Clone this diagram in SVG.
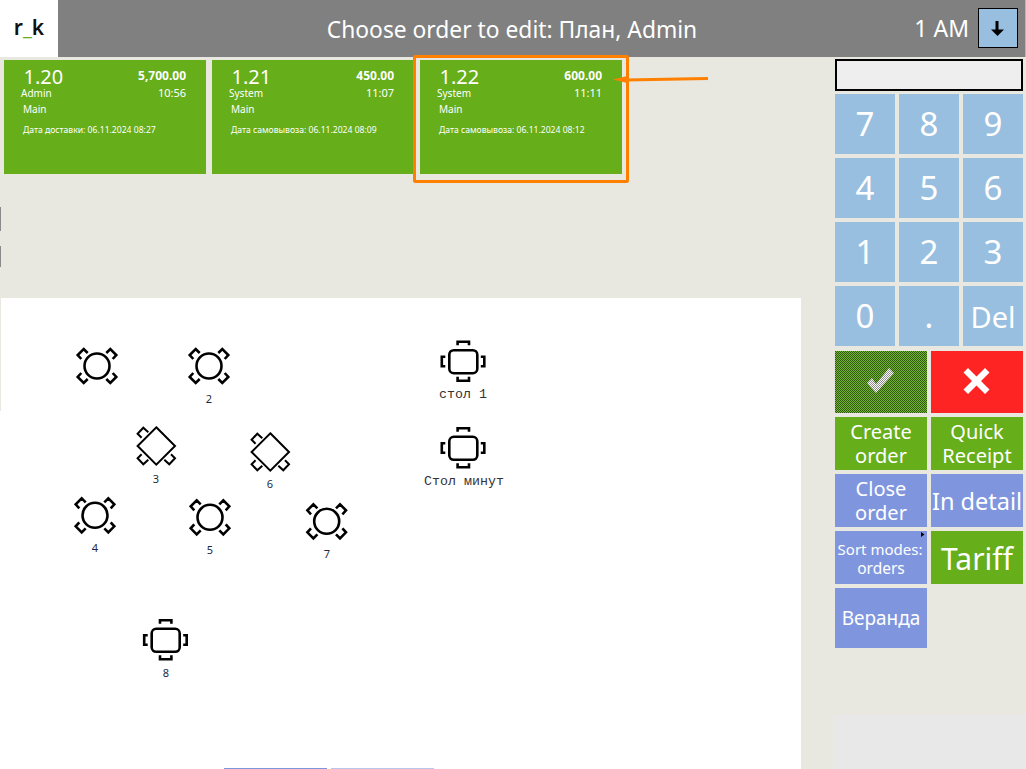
<svg xmlns="http://www.w3.org/2000/svg" width="1026" height="769" viewBox="0 0 1026 769">
<style>
text{font-family:"Noto Sans","Open Sans","DejaVu Sans",sans-serif;fill:#fff}
.m{text-anchor:middle}
.e{text-anchor:end}
.g{fill:#66ae1a}
.k{fill:#99bfe0}
.b{fill:#7f96df}
.key{font-size:33px;text-anchor:middle}
.btn{font-size:20px;text-anchor:middle}
.num{font-size:20px}
.amt{font-size:12px;font-weight:700;text-anchor:end}
.sm{font-size:10px}
.time{font-size:11px;text-anchor:end}
.dt{font-size:8.6px}
.tl{font-size:11px;text-anchor:middle;fill:#1c2a40}
.ml{font-family:"Liberation Mono",monospace;font-size:13.3px;text-anchor:middle;fill:#333}
.s{fill:none;stroke:#000;stroke-width:2.6}
</style>
<defs>
<pattern id="hatch" width="2" height="2" patternUnits="userSpaceOnUse"><rect width="2" height="2" fill="#74b632"/><rect width="1" height="1" fill="#2f5a0c"/><rect x="1" y="1" width="1" height="1" fill="#2f5a0c"/></pattern>
<pattern id="chk" width="2" height="2" patternUnits="userSpaceOnUse"><rect width="2" height="2" fill="#fff"/><rect width="1" height="1" fill="#8a8a8a"/><rect x="1" y="1" width="1" height="1" fill="#8a8a8a"/></pattern>
<g id="round"><circle r="12.500" class="s"/><path class="s" d="M-15.700-7-19.300-11-13.300-17-9.300-13M15.700-7 19.300-11 13.300-17 9.300-13M-15.700 7-19.300 11-13.300 17-9.300 13M15.700 7 19.300 11 13.300 17 9.300 13"/></g>
<g id="diamond"><path class="s" d="M0-18.700 18.700 0 0 18.700-18.700 0Z" style="stroke-width:2"/><path class="s" d="M-14.700-8.300-18.700-12.300-13-18.300-8-13.700M-14.700 8.300-18.700 12.300-13 18.300-8 13.700M14.700 8.300 18.700 12.300 13 18.300 8 13.700" style="stroke-width:2"/></g>
<g id="square"><rect x="-14" y="-11.500" width="28" height="23" rx="4.500" class="s"/><path class="s" d="M-5.700-16.500V-20H5.700V-16.500M-5.700 15V19H5.700V15M-18-5H-21.500V4.500H-18M17.500-5H21V4.500H17.500"/></g>
</defs>
<rect width="1026" height="769" fill="#e8e8e0"/>
<g id="header">
<rect width="1026" height="57" fill="#808080"/>
<rect width="58" height="57" fill="#fff"/>
<text x="29" y="35" class="m" style="font-size:21px;font-weight:600;fill:#111">r<tspan style="fill:#66ae1a">_</tspan>k</text>
<text x="512" y="38" class="m" style="font-size:22.800px">Choose order to edit: План, Admin</text>
<text x="969" y="37" class="e" style="font-size:23px">1 AM</text>
<rect x="978.500" y="8.500" width="39" height="39" fill="#99bfe0" stroke="#000" stroke-width="1"/>
<path d="M997 21V31" stroke="#000" stroke-width="3"/><path d="M991 29.500H1004L997.500 36Z" fill="#000"/>
</g>
<rect x="1025" y="0" width="1" height="57" fill="#99bfe0"/>
<g id="order-1-20">
<rect x="4" y="60" width="202" height="114" class="g"/>
<text x="23.500" y="83.500" class="num">1.20</text><text x="186" y="80" class="amt">5,700.00</text>
<text x="21" y="97" class="sm">Admin</text><text x="186" y="97" class="time">10:56</text>
<text x="23" y="113" class="sm">Main</text><text x="23" y="133" class="dt">Дата доставки: 06.11.2024 08:27</text>
</g>
<g id="order-1-21">
<rect x="212" y="60" width="202" height="114" class="g"/>
<text x="231.500" y="83.500" class="num">1.21</text><text x="394" y="80" class="amt">450.00</text>
<text x="229" y="97" class="sm">System</text><text x="394" y="97" class="time">11:07</text>
<text x="231" y="113" class="sm">Main</text><text x="231" y="133" class="dt">Дата самовывоза: 06.11.2024 08:09</text>
</g>
<g id="order-1-22">
<rect x="420" y="60" width="202" height="114" class="g"/>
<text x="439.500" y="83.500" class="num">1.22</text><text x="602" y="80" class="amt">600.00</text>
<text x="437" y="97" class="sm">System</text><text x="602" y="97" class="time">11:11</text>
<text x="439" y="113" class="sm">Main</text><text x="439" y="133" class="dt">Дата самовывоза: 06.11.2024 08:12</text>
</g>
<g id="connectors">
<rect x="414.500" y="56.500" width="213" height="125" rx="1" fill="none" stroke="#ff7f00" stroke-width="3"/>
<path d="M708 78.500 626 80" fill="none" stroke="#ff7f00" stroke-width="2.800"/>
<path d="M613 79.500 629 75.500V83.500Z" fill="#ff7f00"/>
</g>
<g id="keypad">
<rect x="836" y="60" width="186" height="30" fill="#eee" stroke="#000" stroke-width="2"/>
<rect x="835" y="94" width="60" height="60" class="k"/><text x="865" y="136" class="key">7</text>
<rect x="899" y="94" width="60" height="60" class="k"/><text x="929" y="136" class="key">8</text>
<rect x="963" y="94" width="60" height="60" class="k"/><text x="993" y="136" class="key">9</text>
<rect x="835" y="158" width="60" height="60" class="k"/><text x="865" y="200" class="key">4</text>
<rect x="899" y="158" width="60" height="60" class="k"/><text x="929" y="200" class="key">5</text>
<rect x="963" y="158" width="60" height="60" class="k"/><text x="993" y="200" class="key">6</text>
<rect x="835" y="222" width="60" height="60" class="k"/><text x="865" y="264" class="key">1</text>
<rect x="899" y="222" width="60" height="60" class="k"/><text x="929" y="264" class="key">2</text>
<rect x="963" y="222" width="60" height="60" class="k"/><text x="993" y="264" class="key">3</text>
<rect x="835" y="286" width="60" height="60" class="k"/><text x="865" y="328" class="key">0</text>
<rect x="899" y="286" width="60" height="60" class="k"/><text x="929" y="328" class="key">.</text>
<rect x="963" y="286" width="60" height="60" class="k"/><text x="993" y="328" class="key" style="font-size:29px">Del</text>
</g>
<g id="buttons">
<rect x="835" y="351" width="92" height="62" fill="url(#hatch)"/>
<path d="M867 383 872 378 876 384 889 368 894 373 876 393Z" fill="url(#chk)"/>
<rect x="931" y="351" width="92" height="62" fill="#ff2424"/>
<path d="M968 368 976.500 376.500 985 368 989.500 372.500 981 381 989.500 389.500 985 394 976.500 385.500 968 394 963.500 389.500 972 381 963.500 372.500Z" fill="#fff"/>
<rect x="835" y="417" width="92" height="53" class="g"/><text x="881" y="439" class="btn">Create</text><text x="881" y="463" class="btn">order</text>
<rect x="931" y="417" width="92" height="53" class="g"/><text x="977" y="439" class="btn">Quick</text><text x="977" y="463" class="btn">Receipt</text>
<rect x="835" y="474" width="92" height="53" class="b"/><text x="881" y="496" class="btn">Close</text><text x="881" y="520" class="btn">order</text>
<rect x="931" y="474" width="92" height="53" class="b"/><text x="977" y="510" class="btn" style="font-size:23.500px">In detail</text>
<rect x="835" y="531" width="92" height="53" class="b"/><text x="880" y="555" class="btn" style="font-size:15px">Sort modes:</text><text x="881" y="574" class="btn" style="font-size:15.500px">orders</text>
<path d="M921 532 924.500 534.500 921 537Z" fill="#000"/>
<rect x="931" y="531" width="92" height="53" class="g"/><text x="977" y="570" class="btn" style="font-size:30px">Tariff</text>
<rect x="835" y="588" width="92" height="60" class="b"/><text x="881" y="625" class="btn" style="font-size:19px">Веранда</text>
</g>
<rect x="833" y="715" width="193" height="54" fill="#e8e8e8"/>
<g id="floor">
<rect x="0" y="298" width="801" height="471" fill="#fff"/>
<rect x="0" y="298" width="1" height="113" fill="#e8e8e0"/>
<rect x="0" y="207" width="1" height="24" fill="#8a8a8a"/><rect x="0" y="246" width="1" height="21" fill="#8a8a8a"/>
<rect x="224" y="768" width="103" height="1" fill="#7f96df"/><rect x="331" y="768" width="103" height="1" fill="#b8c6ec"/>
</g>
<g id="table-1"><use href="#round" x="97" y="366"/></g>
<g id="table-2"><use href="#round" x="209" y="366"/><text x="209" y="403" class="tl">2</text></g>
<g id="table-3"><use href="#diamond" x="156.300" y="446"/><text x="156" y="483" class="tl">3</text></g>
<g id="table-6"><use href="#diamond" x="270.300" y="452"/><text x="270" y="488" class="tl">6</text></g>
<g id="table-4"><use href="#round" x="95" y="515.300"/><text x="95" y="552" class="tl">4</text></g>
<g id="table-5"><use href="#round" x="210" y="517.300"/><text x="210" y="554" class="tl">5</text></g>
<g id="table-7"><use href="#round" x="326.700" y="521.300"/><text x="327" y="558" class="tl">7</text></g>
<g id="table-8"><use href="#square" x="165.700" y="640.300"/><text x="166" y="677" class="tl">8</text></g>
<g id="table-stol-1"><use href="#square" x="463.300" y="361.700"/><text x="463" y="398" class="ml">стол 1</text></g>
<g id="table-stol-minut"><use href="#square" x="463.300" y="448.300"/><text x="464" y="485" class="ml">Стол минут</text></g>
</svg>
